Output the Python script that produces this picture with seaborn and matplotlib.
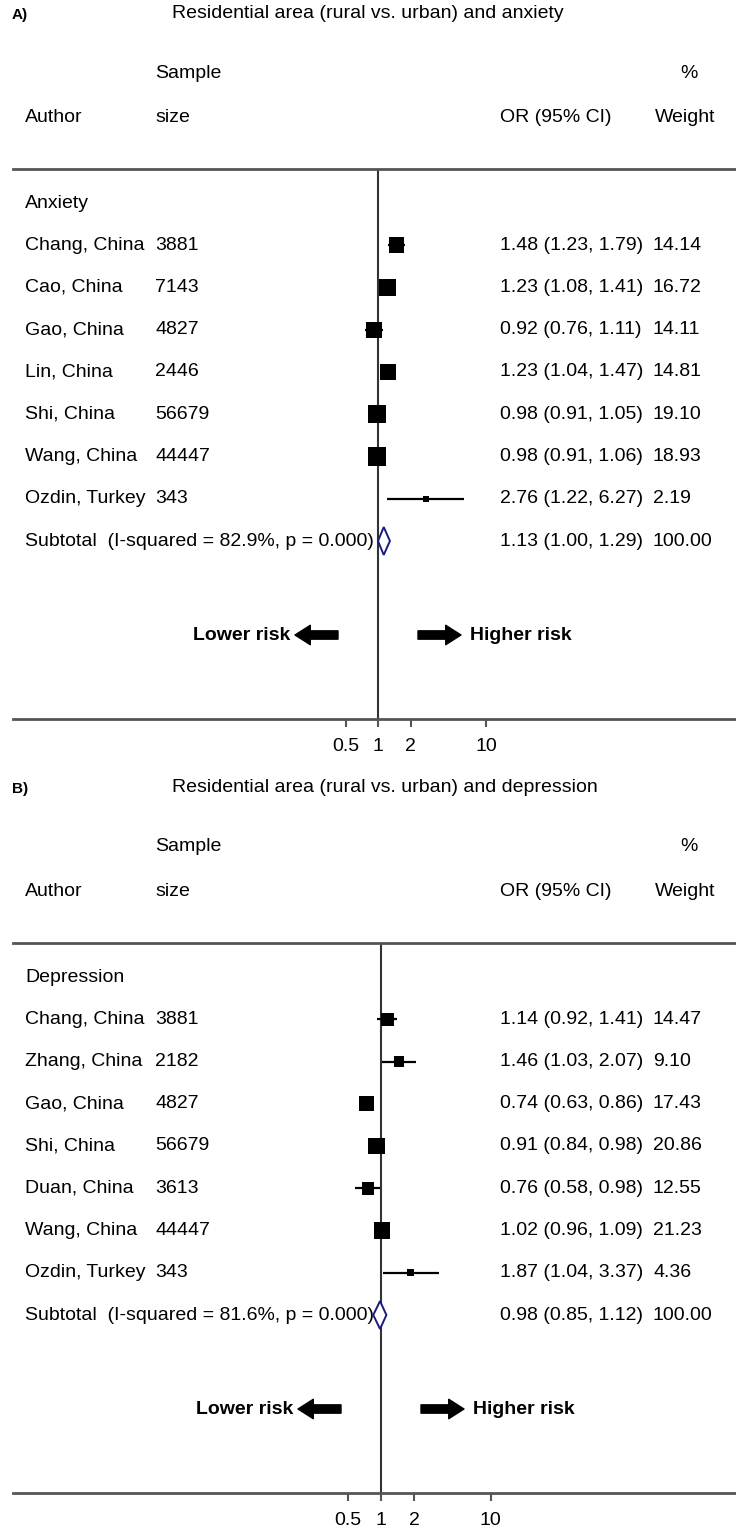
import matplotlib
matplotlib.use("Agg")
import matplotlib.pyplot as plt
import matplotlib.transforms as mtransforms
import seaborn as sns
import numpy as np
import pandas as pd

# panel A: anxiety
anx_authors = ["Chang, China", "Cao, China", "Gao, China", "Lin, China",
               "Shi, China", "Wang, China", "Ozdin, Turkey"]
anx_n = [3881, 7143, 4827, 2446, 56679, 44447, 343]
anx_or = [1.48, 1.23, 0.92, 1.23, 0.98, 0.98, 2.76]
anx_lo = [1.23, 1.08, 0.76, 1.04, 0.91, 0.91, 1.22]
anx_hi = [1.79, 1.41, 1.11, 1.47, 1.05, 1.06, 6.27]
anx_w = [14.14, 16.72, 14.11, 14.81, 19.10, 18.93, 2.19]
anx_sub = (1.13, 1.00, 1.29)
anx_i2 = 82.9

# panel B: depression
dep_authors = ["Chang, China", "Zhang, China", "Gao, China", "Shi, China",
               "Duan, China", "Wang, China", "Ozdin, Turkey"]
dep_n = [3881, 2182, 4827, 56679, 3613, 44447, 343]
dep_or = [1.14, 1.46, 0.74, 0.91, 0.76, 1.02, 1.87]
dep_lo = [0.92, 1.03, 0.63, 0.84, 0.58, 0.96, 1.04]
dep_hi = [1.41, 2.07, 0.86, 0.98, 0.98, 1.09, 3.37]
dep_w = [14.47, 9.10, 17.43, 20.86, 12.55, 21.23, 4.36]
dep_sub = (0.98, 0.85, 1.12)
dep_i2 = 81.6

xticks = [0.5, 1, 2, 10]
xtick_labels = ["0.5", "1", "2", "10"]

sns.set_style("white")
plt.rcParams['font.family'] = ['Liberation Sans', 'DejaVu Sans']
plt.rcParams['text.color'] = 'black'
plt.rcParams['xtick.color'] = 'black'

W, H = 736, 1532
fig = plt.figure(figsize=(W / 100, H / 100), dpi=100)
FS = 14


def fx(x):
    return x / W


def fy(y):
    return 1 - y / H


def draw_panel(letter, title, group, authors, n, ors, los, his, ws, sub, i2,
               top, null_px, unit, box_k):
    # top = pixel y of header line; axis line sits 550 px below it
    bottom = top + 550
    left_px = 13
    ax = fig.add_axes([fx(left_px), fy(bottom), 1 - fx(left_px), (bottom - top) / H])

    row_h = 42.25
    first_row = top + 34
    ax.set_ylim((bottom - first_row) / row_h, -(first_row - top) / row_h)
    ax.set_xscale("log")
    ax.set_xlim(2 ** ((left_px - null_px) / unit), 2 ** ((W - null_px) / unit))

    df = pd.DataFrame({"author": authors, "n": n, "or": ors, "lo": los,
                       "hi": his, "w": ws, "row": np.arange(1, len(authors) + 1)})

    ax.hlines(df["row"], df["lo"], df["hi"], color="black", lw=1.6, zorder=3)
    wmax = max(ws)
    sns.scatterplot(data=df, x="or", y="row", size="w", marker="s",
                    sizes=(0, box_k * wmax), size_norm=(0, wmax),
                    color="black", edgecolor="black", linewidth=0,
                    legend=False, ax=ax, zorder=4)

    # subtotal diamond
    srow = len(authors) + 1
    est, lo, hi = sub
    dh = 0.33
    ax.fill([lo, est, hi, est, lo], [srow, srow - dh, srow, srow + dh, srow],
            facecolor="white", edgecolor="#1a1a80", lw=1.4, zorder=5)

    ax.axvline(1, color="#333333", lw=1.5, zorder=2)

    for s in ["left", "right"]:
        ax.spines[s].set_visible(False)
    for s in ["top", "bottom"]:
        ax.spines[s].set_color("#555555")
        ax.spines[s].set_linewidth(2)
    ax.set_yticks([])
    ax.set_xticks(xticks)
    ax.set_xticklabels(xtick_labels, fontsize=FS)
    ax.xaxis.set_minor_locator(matplotlib.ticker.NullLocator())
    ax.tick_params(axis="x", bottom=True, length=6, width=1.5, color="#555555",
                   labelcolor="black", pad=8)
    ax.set_xlabel("")
    ax.set_ylabel("")

    # header texts
    hy = top - 169
    fig.text(fx(12), fy(hy + 15), letter, fontsize=11, fontweight="bold",
             va="center", ha="left")
    fig.text(fx(172), fy(hy + 14), title, fontsize=FS, va="center", ha="left")
    fig.text(fx(155), fy(hy + 73), "Sample", fontsize=FS, va="center")
    fig.text(fx(680), fy(hy + 73), "%", fontsize=FS, va="center")
    fig.text(fx(25), fy(hy + 117), "Author", fontsize=FS, va="center")
    fig.text(fx(155), fy(hy + 117), "size", fontsize=FS, va="center")
    fig.text(fx(500), fy(hy + 117), "OR (95% CI)", fontsize=FS, va="center")
    fig.text(fx(655), fy(hy + 117), "Weight", fontsize=FS, va="center")

    tr = mtransforms.blended_transform_factory(fig.transFigure, ax.transData)
    ax.text(fx(25), 0, group, transform=tr, fontsize=FS, va="center")
    for _, r in df.iterrows():
        ax.text(fx(25), r["row"], r["author"], transform=tr, fontsize=FS, va="center")
        ax.text(fx(155), r["row"], str(r["n"]), transform=tr, fontsize=FS, va="center")
        ax.text(fx(500), r["row"], f"{r['or']:.2f} ({r['lo']:.2f}, {r['hi']:.2f})",
                transform=tr, fontsize=FS, va="center")
        ax.text(fx(653), r["row"], f"{r['w']:.2f}", transform=tr, fontsize=FS,
                va="center")
    ax.text(fx(25), srow, f"Subtotal  (I-squared = {i2:.1f}%, p = 0.000)",
            transform=tr, fontsize=FS, va="center")
    ax.text(fx(500), srow, f"{est:.2f} ({lo:.2f}, {hi:.2f})", transform=tr,
            fontsize=FS, va="center")
    ax.text(fx(653), srow, "100.00", transform=tr, fontsize=FS, va="center")

    # risk arrows
    rrow = (top + 466 - first_row) / row_h
    arrow = dict(arrowstyle="simple,head_length=1.1,head_width=1.4,tail_width=0.6",
                 color="black", shrinkA=0, shrinkB=0)
    ax.annotate("", xy=(fx(null_px - 83), rrow), xytext=(fx(null_px - 40), rrow),
                xycoords=tr, textcoords=tr, arrowprops=arrow)
    ax.annotate("", xy=(fx(null_px + 83), rrow), xytext=(fx(null_px + 40), rrow),
                xycoords=tr, textcoords=tr, arrowprops=arrow)
    ax.text(fx(null_px - 88), rrow, "Lower risk", transform=tr, fontsize=FS,
            fontweight="bold", ha="right", va="center")
    ax.text(fx(null_px + 92), rrow, "Higher risk", transform=tr, fontsize=FS,
            fontweight="bold", ha="left", va="center")
    return ax


draw_panel("A)", "Residential area (rural vs. urban) and anxiety", "Anxiety",
           anx_authors, anx_n, anx_or, anx_lo, anx_hi, anx_w, anx_sub, anx_i2,
           top=169, null_px=378, unit=32.5, box_k=9.0)
draw_panel("B)", "Residential area (rural vs. urban) and depression", "Depression",
           dep_authors, dep_n, dep_or, dep_lo, dep_hi, dep_w, dep_sub, dep_i2,
           top=943, null_px=381, unit=33.0, box_k=6.5)

fig.savefig("out.png", dpi=100)
